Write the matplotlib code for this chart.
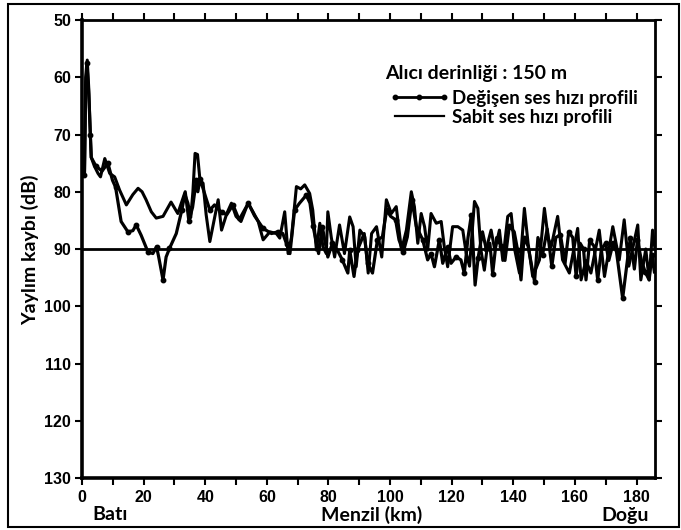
import matplotlib
matplotlib.use("Agg")
import matplotlib.pyplot as plt
from matplotlib.patches import Rectangle

# ---- data (km, dB) ----
sabit_km = [0.8, 1.2, 1.7, 2.2, 2.7, 3.0, 4.0, 5.2, 6.0, 7.4, 9.0, 10.6, 12.2, 14.4, 16.5,
            18.2, 19.5, 20.8, 22.5, 24.1, 26.3, 28.9, 31.1, 33.3, 34.4, 35.3, 36.0, 36.7,
            37.5, 38.3, 39.3, 40.3, 41.5, 43.1, 44.2, 45.3, 47.0, 48.5, 50.0, 51.6, 53.9,
            55.5, 57.2, 58.8, 61.0, 63.1, 64.2, 65.8, 66.9, 68.0, 69.6, 71.0, 72.3, 73.9,
            74.9, 76.1, 77.2, 78.2, 79.3, 79.8, 80.9, 82.0, 83.6, 85.2, 86.9, 88.0, 89.0,
            90.2, 91.8, 92.9, 94.0, 95.6, 97.3, 98.8, 100.4, 102.0, 103.7, 105.3, 106.9,
            107.9, 109.0, 110.1, 111.2, 112.2, 113.3, 115.0, 116.6, 117.6, 118.7, 120.3,
            122.0, 123.6, 124.7, 125.8, 127.4, 128.5, 129.5, 130.6, 131.7, 132.8, 134.0,
            135.5, 136.6, 138.2, 139.3, 140.5, 142.0, 143.6, 144.8, 146.3, 148.5, 150.1,
            151.3, 152.3, 154.4, 156.0, 158.2, 160.9, 162.0, 163.6, 165.2, 167.9, 169.6,
            172.3, 174.4, 176.0, 177.5, 180.4, 181.4, 183.0, 184.1, 185.2, 186.0]
sabit_db = [77.0, 62.0, 57.0, 62.0, 70.0, 74.0, 75.5, 76.8, 77.4, 74.2, 76.8, 77.4, 79.7,
            82.3, 80.5, 79.4, 80.0, 81.4, 83.5, 84.6, 84.3, 81.8, 83.8, 80.3, 82.0, 84.5,
            80.0, 73.3, 73.5, 78.0, 78.5, 84.0, 88.7, 84.4, 81.4, 86.7, 83.8, 82.0, 84.3,
            85.2, 82.0, 83.5, 85.2, 88.4, 87.0, 87.3, 88.1, 83.5, 90.8, 88.0, 79.1, 79.5,
            78.8, 80.3, 83.2, 90.2, 85.5, 89.6, 90.8, 83.5, 87.9, 91.4, 85.8, 90.8, 84.4,
            86.1, 93.1, 86.7, 87.9, 94.2, 87.3, 86.1, 91.4, 81.4, 83.8, 82.6, 90.2, 86.7,
            80.0, 82.6, 89.0, 83.8, 86.1, 90.2, 83.8, 85.5, 85.2, 89.6, 93.1, 86.1, 86.1,
            86.7, 90.7, 93.0, 81.7, 82.9, 90.2, 93.7, 89.0, 86.7, 90.2, 86.7, 92.0, 84.3,
            83.8, 90.2, 94.2, 82.9, 89.0, 94.8, 91.9, 82.9, 88.0, 89.6, 84.3, 91.9, 94.2,
            86.4, 95.4, 92.0, 94.2, 86.7, 94.8, 86.1, 91.9, 84.9, 93.0, 85.8, 95.4, 90.0,
            95.4, 86.7, 90.0]

degisen_km = [0.8, 1.2, 1.6, 2.2, 2.7, 3.0, 4.5, 6.5, 8.4, 9.9, 10.9, 12.7, 14.9, 16.5,
              17.6, 19.2, 21.4, 23.0, 24.2, 24.9, 26.3, 27.3, 28.4, 30.6, 32.4, 33.5, 34.7,
              35.9, 37.1, 37.6, 38.3, 40.3, 41.5, 43.0, 45.3, 47.0, 49.0, 51.0, 54.0, 56.0,
              58.8, 61.5, 63.5, 65.2, 66.4, 67.5, 69.0, 70.6, 72.8, 74.0, 75.0, 76.8, 78.0,
              79.8, 81.3, 82.9, 84.5, 86.3, 86.9, 88.3, 89.4, 91.6, 92.7, 94.3, 95.9, 97.5,
              98.9, 100.2, 101.8, 102.9, 104.3, 105.6, 107.1, 108.5, 110.6, 112.2, 113.3,
              114.4, 116.0, 117.1, 118.7, 119.8, 121.4, 123.0, 124.1, 125.3, 126.4, 127.6,
              128.6, 130.0, 131.2, 132.4, 133.3, 134.6, 136.0, 137.3, 138.7, 140.3, 141.4,
              142.5, 143.5, 144.8, 146.9, 148.0, 149.5, 151.0, 152.5, 153.8, 155.3, 156.8,
              158.0, 159.3, 160.4, 161.7, 162.8, 163.6, 164.8, 166.2, 167.4, 168.6, 170.0,
              171.0, 172.4, 173.5, 175.5, 176.8, 178.0, 179.3, 180.3, 181.6, 182.8, 184.1,
              185.0, 185.8]
degisen_db = [77.0, 60.0, 57.5, 63.0, 70.0, 74.0, 75.5, 76.4, 75.0, 78.0, 79.2, 85.2, 87.0,
              86.8, 85.8, 87.6, 90.5, 90.8, 89.6, 91.4, 95.4, 91.4, 89.9, 87.3, 83.2, 80.0,
              85.1, 82.7, 78.0, 80.0, 77.7, 81.2, 83.2, 82.3, 83.6, 84.0, 82.3, 84.9, 82.0,
              84.2, 86.4, 87.3, 87.0, 87.3, 89.1, 90.8, 83.2, 82.0, 80.6, 82.0, 86.0, 90.8,
              86.1, 91.4, 89.0, 90.2, 91.9, 94.2, 90.2, 94.8, 90.2, 87.3, 92.5, 94.2, 88.4,
              87.9, 83.2, 84.3, 84.9, 88.4, 90.5, 87.9, 81.4, 86.0, 88.4, 91.9, 90.8, 93.1,
              88.4, 92.5, 89.6, 92.5, 91.4, 91.9, 94.2, 88.0, 84.0, 96.3, 91.5, 87.0, 90.0,
              89.0, 94.3, 88.0, 89.5, 92.0, 86.0, 87.0, 90.2, 95.4, 88.0, 89.5, 95.7, 88.0,
              91.0, 86.5, 93.0, 88.0, 87.5, 92.5, 87.0, 88.0, 94.8, 89.0, 90.0, 95.4, 88.5,
              89.5, 95.4, 90.0, 89.0, 92.0, 89.0, 90.5, 98.6, 93.0, 88.0, 93.5, 88.5, 92.0,
              94.0, 95.4, 91.0, 94.0]

ref_db = 90
x_ticks = list(range(0, 181, 20))
y_ticks = list(range(50, 131, 10))

legend_title = "Alıcı derinliği : 150 m"
lbl_degisen = "Değişen ses hızı profili"
lbl_sabit = "Sabit ses hızı profili"

W, H = 681, 530
fig = plt.figure(figsize=(W / 100, H / 100), dpi=100)
ax = fig.add_axes([82 / W, (H - 478) / H, (655 - 82) / W, (478 - 20) / H])

lab_font = "Lato"
tick_font = "Liberation Sans"

ax.plot(sabit_km, sabit_db, color="black", lw=2.2, label=lbl_sabit, zorder=3,
        solid_joinstyle="round")
ax.plot(degisen_km, degisen_db, color="black", lw=2.3, marker="o", ms=3.2,
        markevery=2, label=lbl_degisen, zorder=4, solid_joinstyle="round")
ax.axhline(ref_db, color="black", lw=2.0, zorder=2)

ax.set_xlim(0, 186)
ax.set_ylim(130, 50)
ax.set_xticks(x_ticks)
ax.set_xticks(range(0, 187, 10), minor=True)
ax.set_yticks(y_ticks)

ax.tick_params(axis="both", which="both", direction="out", length=5, width=1.5,
               labelsize=11.5, top=True, right=True, pad=3)
ax.tick_params(axis="x", which="major", pad=4)
for lab in ax.get_xticklabels() + ax.get_yticklabels():
    lab.set_fontfamily(tick_font)
    lab.set_fontweight("bold")

for side, lw in [("left", 2.6), ("bottom", 2.6), ("top", 2.0), ("right", 2.0)]:
    ax.spines[side].set_linewidth(lw)

# legend: title + two entries
ax.text((385 - 82) / 573, (478 - 73) / 458, legend_title, transform=ax.transAxes,
        ha="left", va="center", fontsize=14, fontweight="bold", family=lab_font)
h, l = ax.get_legend_handles_labels()
leg = ax.legend(h[::-1], l[::-1], loc="upper left",
                bbox_to_anchor=((395 - 82) / 573, (478 - 90) / 458),
                frameon=False, borderpad=0, borderaxespad=0, handlelength=2.6,
                handletextpad=0.45, labelspacing=0.08,
                prop={"family": lab_font, "weight": "bold", "size": 13.5})
leg.legend_handles[0].set_markevery(None)
leg.legend_handles[0].set_markersize(3.2)
leg.legend_handles[0].set_linewidth(2.0)
leg.legend_handles[1].set_linewidth(1.6)

fig.text(30 / W, 1 - 250 / H, "Yaylım kaybı (dB)", rotation=90, ha="center",
         va="center", fontsize=14, fontweight="bold", family=lab_font)
fig.text(372 / W, 1 - 515 / H, "Menzil (km)", ha="center", va="center",
         fontsize=14, fontweight="bold", family=lab_font)
fig.text(110 / W, 1 - 515 / H, "Batı", ha="center", va="center",
         fontsize=14, fontweight="bold", family=lab_font)
fig.text(625 / W, 1 - 515 / H, "Doğu", ha="center", va="center",
         fontsize=14, fontweight="bold", family=lab_font)

# outer frame around the whole picture
fig.patches.append(Rectangle((8 / W, 3 / H), 671 / W, 523 / H, transform=fig.transFigure,
                             fill=False, edgecolor="black", lw=1.5))

fig.savefig("out.png", dpi=100)
